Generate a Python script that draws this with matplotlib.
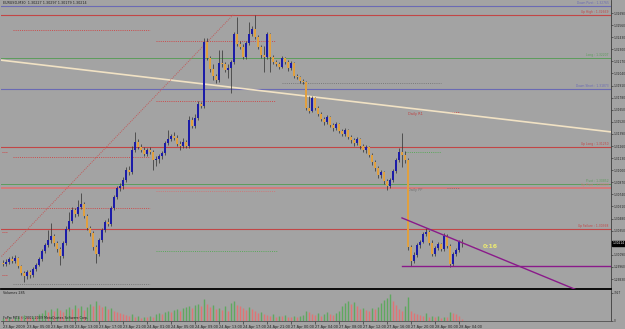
import matplotlib
matplotlib.use("Agg")
import matplotlib.pyplot as plt

W, H = 625, 329

# EURUSD M30 bars, 23 Apr 2009 01:00 .. 28 Apr 2009 04:30
first_open = 1.3000
closes = [
    1.2999, 1.3001, 1.3005, 1.3002, 1.3006, 1.2997, 1.2990, 1.2986, 1.2991, 1.2987,
    1.2994, 1.2998, 1.3005, 1.3013, 1.3020, 1.3025, 1.3029, 1.3022, 1.3015, 1.3008,
    1.3022, 1.3037, 1.3045, 1.3057, 1.3053, 1.3060, 1.3064, 1.3051, 1.3038, 1.3033,
    1.3017, 1.3010, 1.3025, 1.3036, 1.3044, 1.3042, 1.3059, 1.3071, 1.3081, 1.3083,
    1.3090, 1.3100, 1.3098, 1.3122, 1.3130, 1.3125, 1.3122, 1.3117, 1.3122, 1.3120,
    1.3111, 1.3112, 1.3115, 1.3119, 1.3129, 1.3134, 1.3137, 1.3135, 1.3128, 1.3126,
    1.3130, 1.3126, 1.3154, 1.3148, 1.3156, 1.3171, 1.3169, 1.3238, 1.3221, 1.3209,
    1.3201, 1.3197, 1.3215, 1.3214, 1.3208, 1.3210, 1.3216, 1.3246, 1.3236, 1.3232,
    1.3222, 1.3237, 1.3246, 1.3252, 1.3243, 1.3232, 1.3224, 1.3222, 1.3246, 1.3222,
    1.3216, 1.3214, 1.3211, 1.3221, 1.3216, 1.3210, 1.3215, 1.3201, 1.3200, 1.3196,
    1.3195, 1.3167, 1.3164, 1.3178, 1.3167, 1.3160, 1.3155, 1.3152, 1.3157, 1.3149,
    1.3145, 1.3150, 1.3142, 1.3139, 1.3143, 1.3136, 1.3133, 1.3129, 1.3134, 1.3126,
    1.3122, 1.3125, 1.3116, 1.3109, 1.3102, 1.3095, 1.3098, 1.3088, 1.3083, 1.3090,
    1.3099, 1.3111, 1.3120, 1.3116, 1.3111, 1.3017, 1.3002, 1.3009, 1.3020, 1.3023,
    1.3031, 1.3034, 1.3022, 1.3010, 1.3016, 1.3021, 1.3015, 1.3029, 1.3019, 1.2999,
    1.3010, 1.3014, 1.30227, 1.30214,
]
highs = [
    1.3004, 1.3005, 1.3007, 1.3008, 1.3009, 1.3007, 1.2998, 1.2992, 1.2993, 1.2993,
    1.2996, 1.3000, 1.3007, 1.3015, 1.3022, 1.3036, 1.3043, 1.3031, 1.3024, 1.3017,
    1.3024, 1.3040, 1.3055, 1.3060, 1.3059, 1.3068, 1.3076, 1.3066, 1.3053, 1.3040,
    1.3035, 1.3020, 1.3027, 1.3038, 1.3047, 1.3049, 1.3062, 1.3073, 1.3083, 1.3086,
    1.3093, 1.3103, 1.3105, 1.3126, 1.3141, 1.3134, 1.3128, 1.3125, 1.3124, 1.3125,
    1.3122, 1.3115, 1.3117, 1.3121, 1.3131, 1.3143, 1.3139, 1.3141, 1.3138, 1.3131,
    1.3135, 1.3133, 1.3158, 1.3157, 1.3160, 1.3174, 1.3173, 1.3242, 1.3242, 1.3223,
    1.3214, 1.3203, 1.3229, 1.3229, 1.3216, 1.3214, 1.3219, 1.3249, 1.3265, 1.3239,
    1.3236, 1.3239, 1.3259, 1.3255, 1.3267, 1.3245, 1.3235, 1.3234, 1.3249, 1.3248,
    1.3224, 1.3219, 1.3216, 1.3223, 1.3222, 1.3219, 1.3217, 1.3216, 1.3203, 1.3201,
    1.3198, 1.3196, 1.3180, 1.3180, 1.3179, 1.3169, 1.3163, 1.3157, 1.3159, 1.3158,
    1.3151, 1.3152, 1.3151, 1.3144, 1.3145, 1.3144, 1.3138, 1.3135, 1.3136, 1.3135,
    1.3128, 1.3127, 1.3126, 1.3119, 1.3111, 1.3105, 1.3100, 1.3099, 1.3091, 1.3092,
    1.3101, 1.3113, 1.3124, 1.3140, 1.3121, 1.3113, 1.3020, 1.3012, 1.3022, 1.3025,
    1.3034, 1.3038, 1.3036, 1.3025, 1.3019, 1.3023, 1.3022, 1.3033, 1.3031, 1.3021,
    1.3012, 1.3016, 1.3025, 1.3026,
]
lows = [
    1.2997, 1.2997, 1.2999, 1.3000, 1.3000, 1.2995, 1.2987, 1.2980, 1.2983, 1.2984,
    1.2985, 1.2992, 1.2997, 1.3002, 1.3011, 1.3017, 1.3022, 1.3019, 1.3012, 1.2998,
    1.3006, 1.3020, 1.3035, 1.3043, 1.3050, 1.3051, 1.3058, 1.3049, 1.3036, 1.3029,
    1.3014, 1.3000, 1.3008, 1.3023, 1.3034, 1.3040, 1.3040, 1.3057, 1.3069, 1.3078,
    1.3080, 1.3087, 1.3095, 1.3096, 1.3120, 1.3123, 1.3120, 1.3115, 1.3115, 1.3117,
    1.3100, 1.3105, 1.3108, 1.3112, 1.3116, 1.3127, 1.3131, 1.3133, 1.3126, 1.3122,
    1.3124, 1.3124, 1.3124, 1.3145, 1.3145, 1.3154, 1.3167, 1.3167, 1.3219, 1.3206,
    1.3197, 1.3194, 1.3195, 1.3211, 1.3206, 1.3199, 1.3183, 1.3214, 1.3234, 1.3230,
    1.3220, 1.3220, 1.3235, 1.3244, 1.3241, 1.3230, 1.3221, 1.3206, 1.3220, 1.3206,
    1.3214, 1.3212, 1.3209, 1.3210, 1.3214, 1.3207, 1.3208, 1.3199, 1.3198, 1.3194,
    1.3193, 1.3165, 1.3162, 1.3163, 1.3165, 1.3158, 1.3153, 1.3149, 1.3150, 1.3146,
    1.3142, 1.3143, 1.3140, 1.3137, 1.3137, 1.3134, 1.3129, 1.3126, 1.3127, 1.3123,
    1.3120, 1.3119, 1.3114, 1.3106, 1.3099, 1.3092, 1.3092, 1.3085, 1.3079, 1.3081,
    1.3087, 1.3097, 1.3109, 1.3103, 1.3108, 1.3014, 1.2997, 1.3000, 1.3007, 1.3016,
    1.3022, 1.3029, 1.3020, 1.3008, 1.3008, 1.3014, 1.3013, 1.3013, 1.3016, 1.2996,
    1.2997, 1.3008, 1.3012, 1.30179,
]
volumes = [
    420, 350, 560, 280, 490, 700, 630, 840, 560, 490, 700, 630, 910, 1120,
    1540, 1260, 1680, 1400, 1820, 1540, 1260, 1680,
    1960, 1680, 2240, 1820, 2100, 1540, 1960, 2380, 2100,
    2800, 2240,
    1960, 2100, 1680, 1820, 1400, 1260, 1120, 980, 840, 700,
    980, 560, 630, 420, 560, 490, 700, 560,
    980, 1120, 910, 1260, 1400, 1260, 1540, 1680, 1400, 1820,
    1960, 2100, 1820, 2240, 2380, 2100,
    3080,
    2380, 1960, 2240, 1680, 1820, 1540, 2100, 1400,
    2520, 2800, 2240,
    2100, 1820, 1540, 1960, 1680, 1400, 1120, 1260, 980,
    840, 700, 980, 560, 700, 630, 840, 560,
    490, 700, 560, 630, 840,
    1400, 1260, 980, 840, 1120, 700, 910, 1260, 980, 840, 1120, 1400, 2100,
    2520, 2800, 2380, 2660,
    2100, 1680, 1820, 1540, 1400, 1820, 1680,
    1960, 2520, 2940, 3220, 3780,
    2800, 2240, 1680, 1400, 2100,
    3360,
    1400, 1120, 980, 840, 700, 1120,
    560, 700, 490, 630, 420, 560, 490,
    1260, 1120, 910, 700,
    285,
]

time_labels = [
    "23 Apr 2009", "23 Apr 05:00", "23 Apr 09:00", "23 Apr 13:00", "23 Apr 17:00",
    "23 Apr 21:00", "24 Apr 01:00", "24 Apr 05:00", "24 Apr 09:00", "24 Apr 13:00",
    "24 Apr 17:00", "24 Apr 21:00", "27 Apr 00:00", "27 Apr 04:00", "27 Apr 08:00",
    "27 Apr 12:00", "27 Apr 16:00", "27 Apr 20:00", "28 Apr 00:00", "28 Apr 04:00",
]

# indicator levels across the whole chart
level_names = ["Down Pivot", "Up High", "Long", "Down Short", "Up Long", "Pivot", "Up Pivot", "Up Failure"]
level_prices = [1.32765, 1.32669, 1.32207, 1.31873, 1.31250, 1.30852, 1.30809, 1.30368]
level_colors = ["#6a6ab4", "#c24646", "#5c9c5c", "#6a6ab4", "#c24646", "#5c9c5c", "#d47a7a", "#c24646"]
level_widths = [0.8, 0.8, 0.7, 0.8, 0.8, 0.7, 1.4, 0.8]

# daily pivot segments (dotted): price, first bar, last bar, colour
day_prices = [1.32508, 1.32389, 1.31938, 1.31744, 1.31626, 1.31196, 1.31142, 1.30777, 1.30809, 1.30594, 1.30132, 1.29777]
day_start = [3.3, 51, 93, 51, 148, 134, 3.3, 51, 148, 3.3, 51, 3.3]
day_end = [49, 90.7, 146, 90.7, 152, 146, 49, 90.7, 152, 49, 91.3, 49]
day_colors = ["#cc4c4c", "#cc4c4c", "#7a7a7a", "#cc4c4c", "#cc4c4c", "#5aa85a", "#cc4c4c",
              "#cc7a7a", "#7a7a7a", "#cc4c4c", "#5aa85a", "#7a7a7a"]

# trend lines (bar, price)
cream_line = [(0, 1.32181), (200, 1.31422)]
red_diag = [(-1, 1.30057), (77, 1.32680)]
purple_diag = [(133, 1.30487), (191.3, 1.29712)]
support_price = 1.29971
support_from = 133

last_price = 1.30214
tick_top, tick_step, n_ticks = 1.32690, 0.00130, 23
vol_max_label = 3927

bg = "#a3a3a3"
bull = "#1c1ca8"
bear = "#e0a040"

fig = plt.figure(figsize=(W / 100, H / 100), dpi=100)
fig.patch.set_facecolor(bg)
ax = fig.add_axes([1 / W, 40 / H, 610 / W, 289 / H])
axv = fig.add_axes([1 / W, 8 / H, 610 / W, 31 / H])
for a in (ax, axv):
    a.set_facecolor(bg)
    a.set_xlim(-0.67, 202.67)
    for s in ("top", "left"):
        a.spines[s].set_visible(False)
    a.spines["right"].set_color("#3c3c3c")
    a.spines["right"].set_linewidth(0.6)
ax.spines["bottom"].set_color("black")
ax.spines["bottom"].set_linewidth(1.3)
axv.spines["bottom"].set_color("#505050")
axv.spines["bottom"].set_linewidth(0.6)

ax.set_ylim(1.29723, 1.32830)

# levels
for name, p, c, lw in zip(level_names, level_prices, level_colors, level_widths):
    ax.axhline(p, color=c, lw=lw, zorder=1)
    ax.text(0.9965, p + 0.00008, f"{name} : {p:.5f}", transform=ax.get_yaxis_transform(),
            ha="right", va="bottom", fontsize=2.2, color=c)
for p, s, e, c in zip(day_prices, day_start, day_end, day_colors):
    ax.plot([s, e], [p, p], color=c, lw=0.7, ls=(0, (1, 1.2)), zorder=1)
for p in [1.31196, 1.30336, 1.29874]:
    ax.plot([-0.4, 1.3], [p, p], color="#cc4c4c", lw=0.7, ls=(0, (1, 1)), zorder=1)

ax.axline(cream_line[0], cream_line[1], color="#f1e2c4", lw=1.2, zorder=1)
ax.plot(*zip(*red_diag), color="#c25a5a", lw=0.7, ls=(0, (1, 1.2)), zorder=1)

# candles
opens = [first_open] + closes[:-1]
xs = list(range(len(closes)))
ax.vlines(xs, lows, highs, color="#383838", lw=0.55, zorder=3)
for x, o, c in zip(xs, opens, closes):
    col = bull if c >= o else bear
    h = max(abs(c - o), 0.00004)
    ax.bar(x, h, bottom=min(o, c), width=0.75, color=col, lw=0, zorder=4)

ax.plot([support_from, 202.67], [support_price, support_price], color="#8a1a8a", lw=1.0, zorder=5)
ax.plot(*zip(*purple_diag), color="#8a1a8a", lw=1.0, zorder=5)

ax.text(135, 1.31605, "Daily R1", fontsize=2.5, color="#c04040", va="center")
ax.text(135, 1.30788, "Daily PP", fontsize=2.5, color="#707070", va="center")
ax.text(156.5, 1.30180, "- -", fontsize=3, color="#e8e070", va="center")
ax.text(160, 1.30180, "0:16", fontsize=4.4, color="#ecea72", va="center", fontweight="bold")

ax.text(2 / 610, 1 - 1.5 / 289, "EURUSD,M30  1.30227 1.30297 1.30179 1.30214",
        transform=ax.transAxes, va="top", fontsize=2.4, color="#202020")

# right price scale; the label under the current-price box is left blank
ticks = [tick_top - k * tick_step for k in range(n_ticks)]
ax.yaxis.tick_right()
ax.set_yticks(ticks)
ax.set_yticklabels(["" if abs(t - last_price) < tick_step / 2 else f"{t:.5f}" for t in ticks])
ax.tick_params(axis="y", length=1.5, width=0.4, labelsize=2.05, pad=0.5, colors="#202020")
ax.set_xticks([])
ax.annotate(f"{last_price:.5f}", xy=(1, last_price), xycoords=("axes fraction", "data"),
            xytext=(0.9, 0), textcoords="offset points", va="center", ha="left",
            fontsize=2.05, color="white", annotation_clip=False, zorder=10,
            bbox=dict(boxstyle="square,pad=0.2", fc="black", ec="black"))

# volumes
vcols = ["#5fa85f"] + ["#5fa85f" if v > pv else "#e07474" for pv, v in zip(volumes[:-1], volumes[1:])]
axv.vlines(xs, 0, volumes, colors=vcols, lw=1.0)
axv.set_ylim(0, 4300)
axv.yaxis.tick_right()
axv.set_yticks([0, vol_max_label])
axv.set_yticklabels(["0", str(vol_max_label)])
axv.tick_params(axis="y", length=1.5, width=0.4, labelsize=2.05, pad=0.5, colors="#202020")
axv.set_xticks(list(range(0, 8 * len(time_labels), 8)))
axv.set_xticklabels(time_labels)
for lbl in axv.get_xticklabels():
    lbl.set_horizontalalignment("left")
axv.tick_params(axis="x", length=2, width=0.4, labelsize=2.5, pad=0.6, colors="#202020")
axv.text(2 / 610, 0.97, f"Volumes {volumes[-1]}", transform=axv.transAxes, va="top",
         fontsize=2.4, color="#202020")
axv.text(2 / 610, 0.02, "FxPro MT4 \u00a9 2001-2009 MetaQuotes Software Corp.",
         transform=axv.transAxes, va="bottom", fontsize=2.3, color="#202020")

fig.savefig("out.png", dpi=100, facecolor=bg)
